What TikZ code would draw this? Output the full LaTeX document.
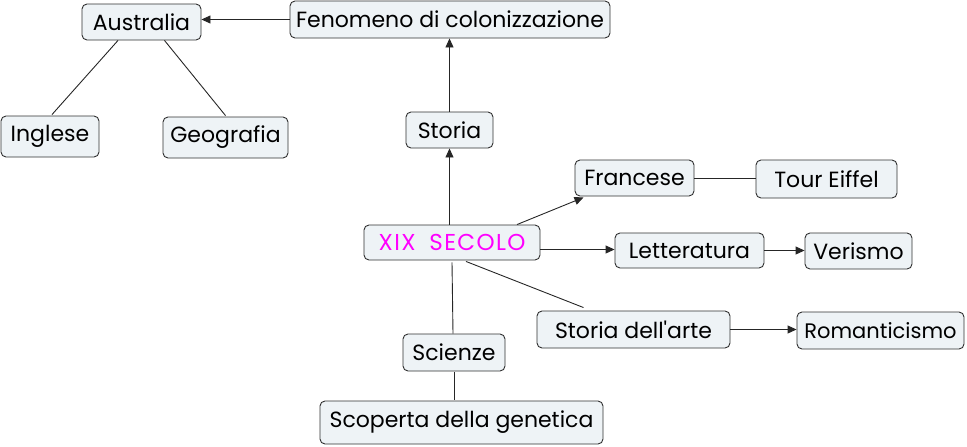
\documentclass[tikz,border=0pt]{standalone}
\usepackage{fontspec}
\setmainfont{Poppins}[Ligatures=TeXOff]
\usetikzlibrary{arrows.meta}
\definecolor{boxfill}{HTML}{EEF3F6}
\definecolor{boxline}{HTML}{303030}
\definecolor{magtext}{HTML}{FF00FF}
\tikzset{
  concept/.style={draw=boxline, line width=0.9pt, fill=boxfill, rounded corners=5pt,
    inner sep=0pt, font=\fontsize{22}{26}\selectfont, text=black, anchor=center},
  link/.style={draw=black!85, line width=0.9pt},
  arr/.style={link, -{Triangle[length=9pt,width=8pt]}}
}
\begin{document}
\begin{tikzpicture}[x=1pt,y=-1pt]
\useasboundingbox (0,0) rectangle (967,447);
\node[concept, minimum width=119pt, minimum height=36pt] (aus) at (141.5,22) {Australia};
\node[concept, minimum width=320pt, minimum height=37pt] (fen) at (450,19.5) {Fenomeno di colonizzazione};
\node[concept, minimum width=98pt, minimum height=41pt] (ing) at (50,136.5) {Inglese};
\node[concept, minimum width=125pt, minimum height=41pt] (geo) at (225.5,137.5) {Geografia};
\node[concept, minimum width=87pt, minimum height=36pt] (sto) at (449.5,130) {Storia};
\node[concept, minimum width=119pt, minimum height=36pt] (fra) at (634.5,178) {Francese};
\node[concept, minimum width=141pt, minimum height=38pt] (tour) at (826.5,179) {Tour Eiffel};
\node[concept, minimum width=176pt, minimum height=35pt, text=magtext,
  font=\fontsize{23}{26}\selectfont\addfontfeature{LetterSpace=6}] (xix) at (452,242.5) {XIX\hspace{0.6em}SECOLO};
\node[concept, minimum width=149pt, minimum height=35pt] (let) at (689.5,250.5) {Letteratura};
\node[concept, minimum width=107pt, minimum height=36pt] (ver) at (858.5,251) {Verismo};
\node[concept, minimum width=193pt, minimum height=37pt] (arte) at (633.5,329.5) {Storia dell'arte};
\node[concept, minimum width=167pt, minimum height=37pt, font=\fontsize{21}{26}\selectfont] (rom) at (880.5,330.5) {Romanticismo};
\node[concept, minimum width=102pt, minimum height=37pt] (sci) at (454,352.5) {Scienze};
\node[concept, minimum width=283pt, minimum height=43pt] (gen) at (461.5,422.5) {Scoperta della genetica};
% arrows
\draw[arr] (fen.west) -- (fen.west -| aus.east);
\draw[arr] (sto.north) -- (sto.north |- fen.south);
\draw[arr] (sto.south |- xix.north) -- (sto.south);
\draw[arr] ([xshift=65pt]xix.north) -- ([xshift=-51pt,yshift=-1pt]fra.south);
\draw[arr] ([yshift=-7pt]xix.east) -- ([yshift=-7pt]xix.east -| let.west);
\draw[arr] (let.east) -- (let.east -| ver.west);
\draw[arr] (arte.east) -- (arte.east -| rom.west);
% plain lines
\draw[link] (fra.east) -- (fra.east -| tour.west);
\draw[link] ([xshift=-23.5pt]aus.south) -- ([xshift=2pt,yshift=1pt]ing.north);
\draw[link] ([xshift=23pt]aus.south) -- ([yshift=1pt]geo.north);
\draw[link] ([xshift=14pt,yshift=-1pt]xix.south) -- ([xshift=-50pt,yshift=3pt]arte.north);
\draw[link] ([yshift=-2pt]xix.south) -- ([xshift=-1pt]sci.north);
\draw[link] ([yshift=-1pt]sci.south) -- ([yshift=1pt]sci.south |- gen.north);
\end{tikzpicture}
\end{document}
